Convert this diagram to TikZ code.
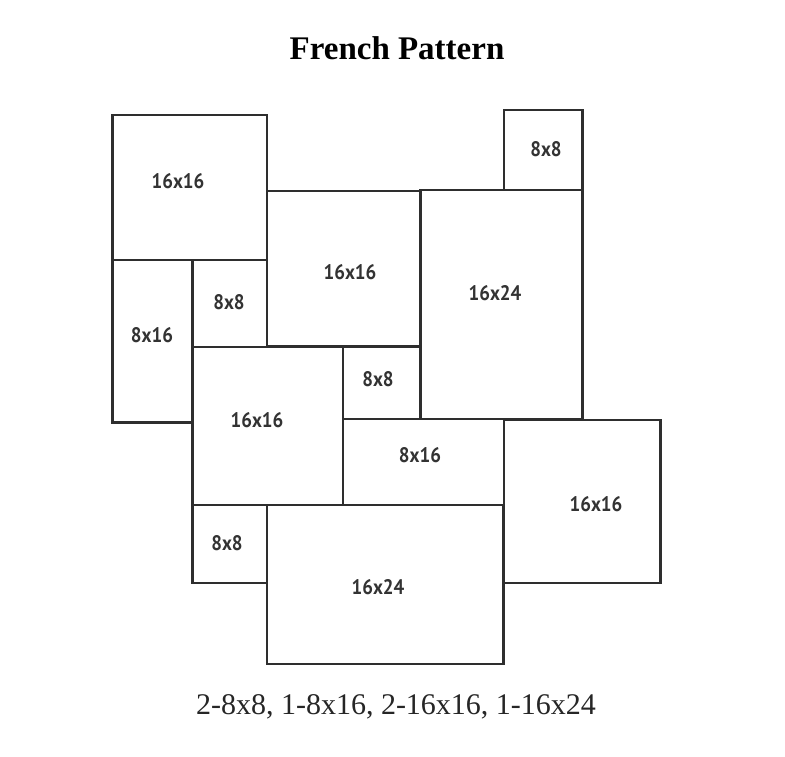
\documentclass[tikz,border=0pt]{standalone}
\usepackage{fontspec}
\setmainfont{Liberation Serif}
\newfontfamily\labelfont[FakeStretch=0.9]{PT Sans}
\begin{document}
\begin{tikzpicture}[x=1pt,y=-1pt,
  tile/.style={draw=black!82,line width=2.2pt,anchor=north west,inner sep=0pt,outer sep=0pt},
  tilelabel/.style={font=\labelfont\bfseries\fontsize{21}{24}\selectfont,text=black!80,inner sep=0pt},
  title/.style={font=\bfseries\fontsize{33}{38}\selectfont,inner sep=0pt},
  caption/.style={font=\fontsize{30}{34}\selectfont,text=black!85,inner sep=0pt}]
\useasboundingbox[fill=white] (0,0) rectangle (785,757);
% tiles: anchor at top-left, size in px
\node[tile,minimum width=154.5pt,minimum height=145pt] (A) at (112.5,115) {};
\node[tile,minimum width=80pt,minimum height=162.5pt] (B) at (112.5,260) {};
\node[tile,minimum width=74.5pt,minimum height=87pt] (C) at (192.5,260) {};
\node[tile,minimum width=153.5pt,minimum height=155.5pt] (D) at (267,191) {};
\node[tile,minimum width=78.5pt,minimum height=80pt] (E) at (504,110) {};
\node[tile,minimum width=162pt,minimum height=229pt] (F) at (420.5,190) {};
\node[tile,minimum width=150.5pt,minimum height=158pt] (G) at (192.5,347) {};
\node[tile,minimum width=77.5pt,minimum height=72pt] (H) at (343,347) {};
\node[tile,minimum width=161pt,minimum height=86pt] (I) at (343,419) {};
\node[tile,minimum width=156.5pt,minimum height=163pt] (J) at (504,420) {};
\node[tile,minimum width=74.5pt,minimum height=78pt] (K) at (192.5,505) {};
\node[tile,minimum width=236.5pt,minimum height=159pt] (L) at (267,505) {};
% labels
\node[tilelabel] (tA) at (178,181) {16x16};
\node[tilelabel] (tB) at (152,335) {8x16};
\node[tilelabel] (tC) at (229,302) {8x8};
\node[tilelabel] (tD) at (350,272) {16x16};
\node[tilelabel] (tE) at (546,149) {8x8};
\node[tilelabel] (tF) at (495,293) {16x24};
\node[tilelabel] (tG) at (257,420) {16x16};
\node[tilelabel] (tH) at (378,379) {8x8};
\node[tilelabel] (tI) at (420,455) {8x16};
\node[tilelabel] (tJ) at (596,504) {16x16};
\node[tilelabel] (tK) at (227,543) {8x8};
\node[tilelabel] (tL) at (378,587) {16x24};
% texts
\node[title] (title) at (397,48) {French Pattern};
\node[caption] (cap) at (396,707) {2-8x8, 1-8x16, 2-16x16, 1-16x24};
\end{tikzpicture}
\end{document}
